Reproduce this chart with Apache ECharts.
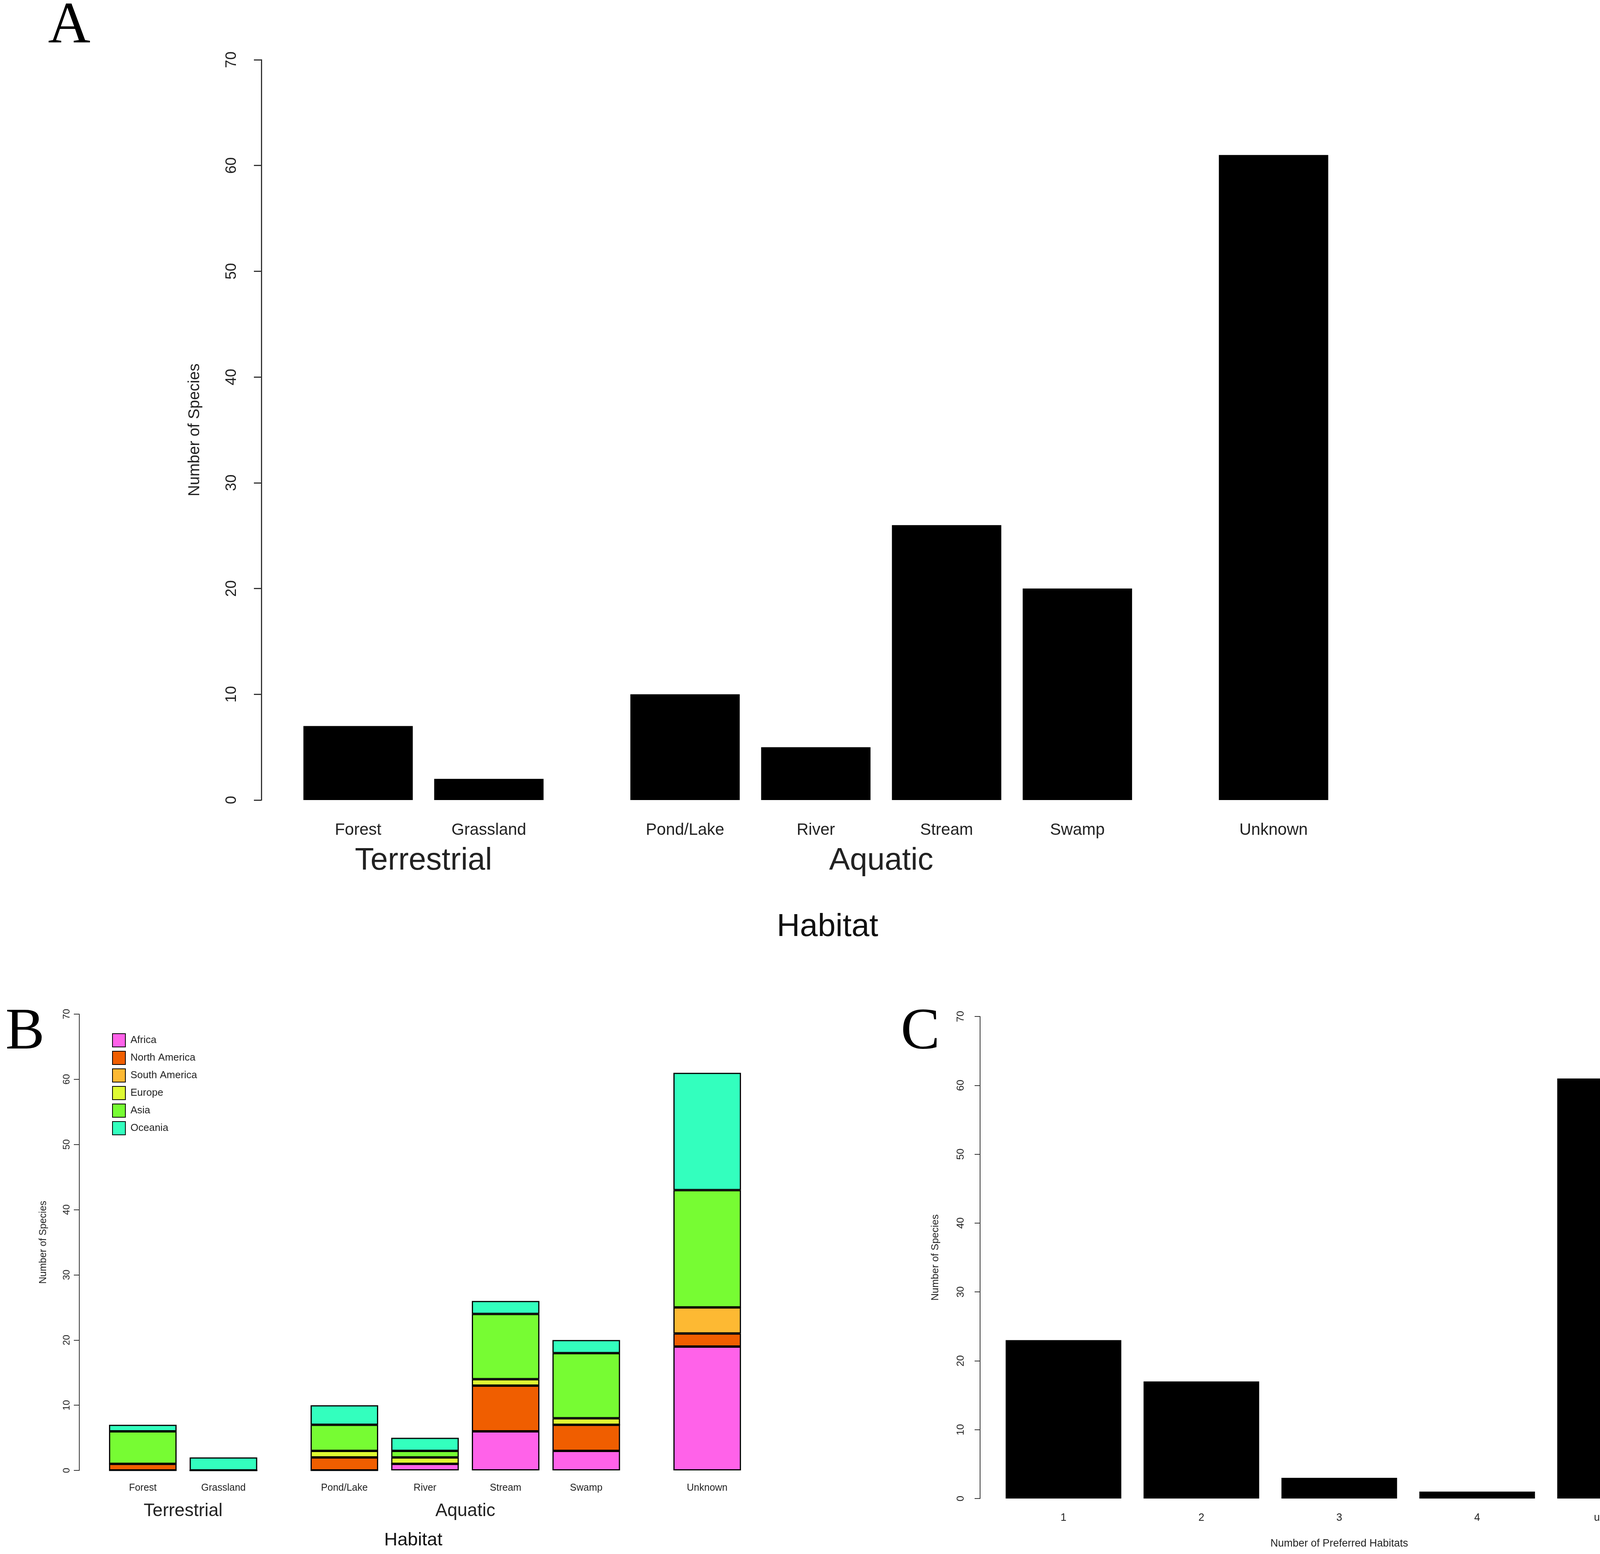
<!DOCTYPE html>
<html>
<head>
<meta charset="utf-8">
<script src="https://cdn.jsdelivr.net/npm/echarts@6/dist/echarts.min.js"></script>
<style>
  html, body { margin: 0; padding: 0; background: #fff; }
  #chart { width: 4299px; height: 3978px; }
</style>
</head>
<body>
<div id="chart"></div>
<script>
// --- data ---
var habitats = ['Forest', 'Grassland', 'Pond/Lake', 'River', 'Stream', 'Swamp', 'Unknown'];
var habitatGroup = ['Terrestrial', 'Terrestrial', 'Aquatic', 'Aquatic', 'Aquatic', 'Aquatic', ''];
var speciesTotals = [7, 2, 10, 5, 26, 20, 61];

var regions = ['Africa', 'North America', 'South America', 'Europe', 'Asia', 'Oceania'];
var regionColors = ['#FF62E9', '#F05E00', '#FDB933', '#DFFA33', '#77FC33', '#33FFBE'];
var africa       = [0, 0, 0, 1, 6, 3, 19];
var northAmerica = [1, 0, 2, 0, 7, 4, 2];
var southAmerica = [0, 0, 0, 0, 0, 0, 4];
var europe       = [0, 0, 1, 1, 1, 1, 0];
var asia         = [5, 0, 4, 1, 10, 10, 18];
var oceania      = [1, 2, 3, 2, 2, 2, 18];
var regionValues = [africa, northAmerica, southAmerica, europe, asia, oceania];

var habitatCounts = ['1', '2', '3', '4', 'unknown'];
var countSpecies = [23, 17, 3, 1, 61];

var yTicks = { min: 0, max: 70, interval: 10 };

// --- half-width slots: one blank between bars, two between habitat groups ---
var slotCats = [];
var slotOf = [];
habitats.forEach(function(h, i) {
	if (i > 0) {
		slotCats.push('');
		if (habitatGroup[i] !== habitatGroup[i - 1]) slotCats.push('');
	}
	slotOf.push(slotCats.length);
	slotCats.push(h);
});
var groupCats = slotCats.map(function() { return ''; });
var start = 0;
for (var i = 1; i <= habitats.length; i++) {
	if (i === habitats.length || habitatGroup[i] !== habitatGroup[start]) {
		groupCats[(slotOf[start] + slotOf[i - 1]) / 2] = habitatGroup[start];
		start = i;
	}
}
function toSlots(vals) {
	var out = slotCats.map(function() { return '-'; });
	vals.forEach(function(v, k) { out[slotOf[k]] = v; });
	return out;
}

var FONT = 'Liberation Sans, Arial, sans-serif';
var INK = '#222';

function yAxisFor(grid, offset, tick, labSize, margin, nameSize, nameGap, lw) {
	return {
		gridIndex: grid, type: 'value', min: yTicks.min, max: yTicks.max, interval: yTicks.interval,
		offset: offset, position: 'left',
		name: 'Number of Species', nameLocation: 'middle', nameGap: nameGap, nameRotate: 90,
		nameTextStyle: { fontFamily: FONT, fontSize: nameSize, color: INK },
		axisLine: { show: true, lineStyle: { color: '#333', width: lw } },
		axisTick: { show: true, length: tick, lineStyle: { color: '#333', width: lw } },
		axisLabel: { rotate: 90, margin: margin, fontFamily: FONT, fontSize: labSize, color: INK },
		splitLine: { show: false }
	};
}

function catAxis(grid, data, size, margin, extra) {
	var ax = {
		gridIndex: grid, type: 'category', position: 'bottom', data: data, boundaryGap: true,
		axisLine: { show: false }, axisTick: { show: false },
		axisLabel: { interval: 0, margin: margin, fontFamily: FONT, fontSize: size, color: INK },
		splitLine: { show: false }
	};
	for (var k in extra) ax[k] = extra[k];
	return ax;
}

var chart = echarts.init(document.getElementById('chart'), null, { renderer: 'canvas' });

var series = [
	{
		type: 'bar', xAxisIndex: 0, yAxisIndex: 0, barWidth: 280, clip: false,
		itemStyle: { color: '#000' }, data: toSlots(speciesTotals), silent: true
	},
	{
		type: 'bar', xAxisIndex: 4, yAxisIndex: 2, barWidth: 296, clip: false,
		itemStyle: { color: '#000' }, data: countSpecies, silent: true
	}
];
regions.forEach(function(r, k) {
	series.push({
		name: r, type: 'bar', stack: 'region', xAxisIndex: 2, yAxisIndex: 1, barWidth: 173, clip: false,
		itemStyle: { color: regionColors[k], borderColor: '#000', borderWidth: 3 },
		data: toSlots(regionValues[k]), silent: true
	});
});

var option = {
	backgroundColor: '#fff',
	animation: false,
	grid: [
		{ left: 833, width: 2511, top: 153, bottom: 1930, containLabel: false, outerBoundsMode: 'none' },
		{ left: 314, width: 1548, top: 2596, bottom: 214, containLabel: false, outerBoundsMode: 'none' },
		{ left: 2546, width: 1765, top: 2602, bottom: 142, containLabel: false, outerBoundsMode: 'none' }
	],
	xAxis: [
		catAxis(0, slotCats, 42, 56, {}),
		catAxis(0, groupCats, 80, 116, {
			name: 'Habitat', nameLocation: 'middle', nameGap: 284,
			nameTextStyle: { fontFamily: FONT, fontSize: 82, color: '#111', padding: [0, 0, 0, 60] }
		}),
		catAxis(1, slotCats, 25, 33, {}),
		catAxis(1, groupCats, 46, 81, {
			name: 'Habitat', nameLocation: 'middle', nameGap: 156,
			nameTextStyle: { fontFamily: FONT, fontSize: 47, color: '#111', padding: [0, 60, 0, 0] }
		}),
		catAxis(2, habitatCounts, 27, 36, {
			name: 'Number of Preferred Habitats', nameLocation: 'middle', nameGap: 102,
			nameTextStyle: { fontFamily: FONT, fontSize: 27, color: INK }
		})
	],
	yAxis: [
		yAxisFor(0, 164, 19, 38, 56, 40, 150, 3),
		yAxisFor(1, 111, 14, 24, 20, 25, 79, 2),
		yAxisFor(2, 37, 14, 26, 36, 26, 101, 2)
	],
	legend: {
		data: regions, orient: 'vertical', left: 282, top: 2640,
		itemWidth: 33, itemHeight: 34, itemGap: 9, icon: 'rect',
		textStyle: { fontFamily: FONT, fontSize: 26, color: INK, padding: [0, 0, 0, 8] },
		selectedMode: false
	},
	graphic: [
		{ type: 'text', style: { x: 123, y: 69, text: 'A', font: '150px "Liberation Serif", serif', fill: '#000', textVerticalAlign: 'middle' } },
		{ type: 'text', style: { x: 14, y: 2645, text: 'B', font: '150px "Liberation Serif", serif', fill: '#000', textVerticalAlign: 'middle' } },
		{ type: 'text', style: { x: 2306, y: 2645, text: 'C', font: '150px "Liberation Serif", serif', fill: '#000', textVerticalAlign: 'middle' } }
	],
	series: series
};
chart.setOption(option);
</script>
</body>
</html>
